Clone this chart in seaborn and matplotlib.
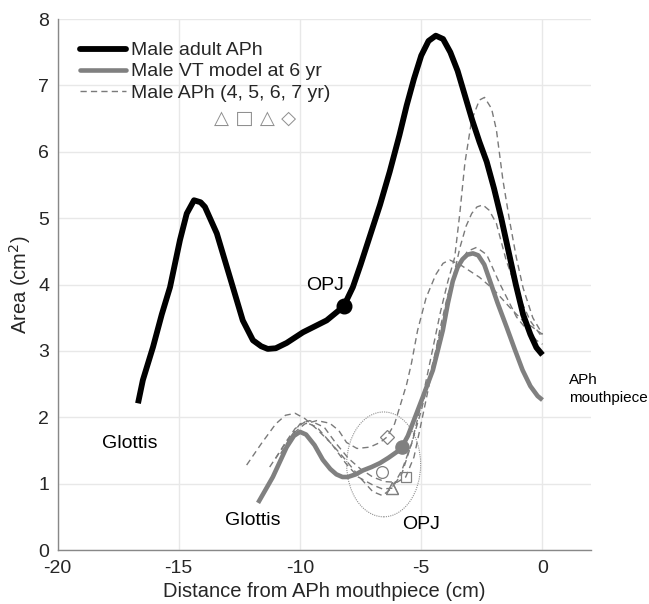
import numpy as np
import pandas as pd
import matplotlib
matplotlib.use("Agg")
import matplotlib.pyplot as plt
from matplotlib.patches import Ellipse
from matplotlib.lines import Line2D
import seaborn as sns

# ---------------- data ----------------
adult_x = [-16.68, -16.48, -16.06, -15.7, -15.36, -14.95, -14.67, -14.37, -14.1, -13.92,
           -13.43, -12.89, -12.36, -11.94, -11.6, -11.33, -11.0, -10.55, -9.88, -8.9,
           -8.2, -7.82, -7.5, -7.1, -6.7, -6.3, -5.9, -5.6, -5.3, -5.0, -4.7, -4.4,
           -4.1, -3.8, -3.5, -3.2, -2.9, -2.6, -2.3, -2.0, -1.7, -1.4, -1.1, -0.8,
           -0.5, -0.25, 0.0]
adult_y = [2.21, 2.56, 3.06, 3.55, 3.96, 4.67, 5.07, 5.27, 5.24, 5.17,
           4.77, 4.11, 3.46, 3.16, 3.07, 3.03, 3.04, 3.12, 3.28, 3.46,
           3.67, 3.96, 4.30, 4.75, 5.20, 5.70, 6.25, 6.70, 7.10, 7.45, 7.67, 7.75,
           7.70, 7.50, 7.22, 6.85, 6.48, 6.15, 5.85, 5.45, 5.00, 4.50, 4.00, 3.55,
           3.25, 3.05, 2.94]

vt_x = [-11.73, -11.12, -10.55, -10.25, -10.0, -9.75, -9.4, -9.06, -8.75, -8.5, -8.25,
        -8.03, -7.7, -7.4, -7.05, -6.7, -6.35, -6.0, -5.8, -5.55, -5.35, -4.94, -4.52,
        -4.11, -3.9, -3.7, -3.5, -3.3, -3.1, -2.87, -2.65, -2.4, -2.18, -1.85, -1.48,
        -1.15, -0.82, -0.5, -0.2, 0.0]
vt_y = [0.71, 1.10, 1.55, 1.72, 1.78, 1.74, 1.58, 1.36, 1.22, 1.14, 1.10,
        1.10, 1.14, 1.20, 1.25, 1.31, 1.39, 1.48, 1.55, 1.72, 1.91, 2.30, 2.71,
        3.31, 3.72, 4.05, 4.26, 4.38, 4.45, 4.47, 4.44, 4.30, 4.07, 3.72, 3.36,
        3.03, 2.71, 2.47, 2.32, 2.26]

aph4_x = [-12.2, -11.6, -11.0, -10.6, -10.2, -9.8, -9.3, -8.7, -8.1, -7.5, -7.0, -6.6,
          -6.22, -5.8, -5.4, -5.0, -4.6, -4.2, -3.7, -3.41, -3.15, -2.92, -2.7, -2.46,
          -2.2, -1.9, -1.5, -1.0, -0.5, 0.0]
aph4_y = [1.28, 1.60, 1.90, 2.03, 2.06, 1.98, 1.82, 1.60, 1.35, 1.08, 0.88, 0.82,
          0.93, 1.20, 1.60, 2.10, 2.70, 3.30, 4.07, 4.55, 4.88, 5.07, 5.17, 5.20,
          5.12, 4.92, 4.37, 3.85, 3.45, 3.20]

aph5_x = [-10.8, -10.4, -10.0, -9.6, -9.0, -8.5, -8.0, -7.5, -7.0, -6.5, -6.0, -5.64,
          -5.3, -5.06, -4.78, -4.5, -4.24, -3.9, -3.5, -3.1, -2.72, -2.3, -1.77, -1.07,
          -0.6, -0.25, 0.0]
aph5_y = [1.45, 1.70, 1.90, 1.95, 1.85, 1.60, 1.38, 1.22, 1.10, 1.03, 1.02, 1.10,
          1.40, 1.81, 2.30, 2.80, 3.31, 3.85, 4.25, 4.50, 4.56, 4.45, 4.02, 3.51,
          3.30, 3.16, 3.10]

aph6_x = [-11.0, -10.6, -10.2, -9.8, -9.3, -8.7, -8.1, -7.6, -7.0, -6.6, -6.22, -5.8,
          -5.4, -5.0, -4.6, -4.2, -3.9, -3.62, -3.41, -3.2, -2.92, -2.6, -2.39, -2.1,
          -1.9, -1.63, -1.36, -1.08, -0.8, -0.4, 0.0]
aph6_y = [1.38, 1.62, 1.83, 1.93, 1.85, 1.60, 1.30, 1.10, 0.98, 0.92, 0.93, 1.15,
          1.60, 2.20, 2.90, 3.60, 4.05, 4.41, 5.07, 5.83, 6.48, 6.78, 6.82, 6.65,
          6.33, 5.57, 4.97, 4.41, 3.95, 3.50, 3.25]

aph7_x = [-11.25, -10.8, -10.3, -9.8, -9.3, -8.77, -8.4, -8.08, -7.65, -7.12, -6.7, -6.42,
          -6.1, -5.89, -5.6, -5.4, -5.15, -4.8, -4.4, -4.1, -3.83, -3.4, -2.6, -2.0,
          -1.36, -0.8, -0.42, 0.0]
aph7_y = [1.25, 1.50, 1.75, 1.90, 1.95, 1.91, 1.80, 1.62, 1.53, 1.55, 1.62, 1.70,
          1.90, 2.15, 2.50, 2.82, 3.31, 3.80, 4.15, 4.32, 4.37, 4.30, 4.11, 3.92,
          3.66, 3.45, 3.36, 3.25]

adult_opj = (-8.2, 3.67)
vt_opj = (-5.8, 1.55)
opj_markers_x = [-6.22, -5.64, -6.22, -6.42, -6.63]
opj_markers_y = [0.93, 1.10, 0.93, 1.70, 1.17]
opj_markers_m = ["^", "s", "^", "D", "o"]
ellipse_center = (-6.55, 1.29)
ellipse_w, ellipse_h = 3.05, 1.58

legend_labels = ["Male adult APh", "Male VT model at 6 yr", "Male APh (4, 5, 6, 7 yr)"]
x_ticks = [-20, -15, -10, -5, 0]
y_ticks = [0, 1, 2, 3, 4, 5, 6, 7, 8]

# ---------------- style ----------------
sns.set_theme(style="white")
plt.rcParams["font.family"] = ["Liberation Sans", "DejaVu Sans"]
FS = 14
GREY = "#808080"
DASH_GREY = "#7a7a7a"

fig = plt.figure(figsize=(6.49, 6.04), dpi=100)
ax = fig.add_axes([0.0886, 0.0894, 0.822, 0.879])

dash = (0, (4.5, 3))
for xs, ys in [(aph4_x, aph4_y), (aph5_x, aph5_y), (aph6_x, aph6_y), (aph7_x, aph7_y)]:
    sns.lineplot(x=xs, y=ys, ax=ax, sort=False, estimator=None, color=DASH_GREY,
                 lw=1.0, linestyle=dash, zorder=3)

sns.lineplot(x=vt_x, y=vt_y, ax=ax, sort=False, estimator=None, color=GREY,
             lw=3.3, zorder=4, solid_capstyle="butt", solid_joinstyle="round")
sns.lineplot(x=adult_x, y=adult_y, ax=ax, sort=False, estimator=None, color="black",
             lw=4.2, zorder=5, solid_capstyle="butt", solid_joinstyle="round")

ax.plot(*adult_opj, "o", color="black", ms=10.5, zorder=6)
ax.plot(*vt_opj, "o", color=GREY, ms=9.5, zorder=6)

marker_sizes = {"^": 9, "s": 7.5, "D": 7, "o": 8.5}
for mx, my, m in zip(opj_markers_x, opj_markers_y, opj_markers_m):
    ax.plot(mx, my, m, ms=marker_sizes[m], mfc="none", mec=GREY, mew=0.9, zorder=6)

ell = Ellipse(ellipse_center, ellipse_w, ellipse_h, fill=False, edgecolor="#909090",
              lw=0.8, linestyle=(0, (1, 1)), zorder=2)
ax.add_patch(ell)

# annotations
ax.text(-17.01, 1.61, "Glottis", fontsize=FS, ha="center", va="center", color="black")
ax.text(-11.95, 0.44, "Glottis", fontsize=FS, ha="center", va="center", color="black")
ax.text(-8.98, 3.99, "OPJ", fontsize=FS, ha="center", va="center", color="black")
ax.text(-5.02, 0.38, "OPJ", fontsize=FS, ha="center", va="center", color="black")
ax.text(1.1, 2.42, "APh\nmouthpiece", fontsize=11, ha="left", va="center",
        color="black", clip_on=False, linespacing=1.35)

# legend
handles = [Line2D([], [], color="black", lw=4.2),
           Line2D([], [], color=GREY, lw=3.3),
           Line2D([], [], color=DASH_GREY, lw=1.0, linestyle=dash)]
leg = ax.legend(handles, legend_labels, loc="upper left", bbox_to_anchor=(0.017, 0.983),
                frameon=False, fontsize=FS, handlelength=2.35, handletextpad=0.25,
                labelspacing=0.18, borderaxespad=0.3)
ax.text(0.371, 0.8136, "\u25B3 \u25A1 \u25B3 \u25C7", transform=ax.transAxes,
        fontsize=14, color="#909090", ha="center", va="center",
        family=["DejaVu Sans"])

ax.set_xlim(-20, 2)
ax.set_ylim(0, 8)
ax.set_xticks(x_ticks)
ax.set_yticks(y_ticks)
ax.set_xticklabels([str(t) for t in x_ticks])
ax.tick_params(axis="x", labelsize=FS, direction="in", length=4, color="#888888", pad=7)
ax.tick_params(axis="y", labelsize=FS, direction="in", length=4, color="#888888", pad=6)
ax.grid(True, color="#e8e8e8", lw=1.0, zorder=0)
ax.set_axisbelow(True)
for s in ["top", "right"]:
    ax.spines[s].set_visible(False)
for s in ["left", "bottom"]:
    ax.spines[s].set_color("#888888")
    ax.spines[s].set_linewidth(1.0)

ax.set_xlabel("Distance from APh mouthpiece (cm)", fontsize=14.5, labelpad=4)
ax.set_ylabel("Area (cm$^2$)", fontsize=14.5)
ax.yaxis.set_label_coords(-0.046, 0.5)

fig.savefig("out.png", dpi=100)
